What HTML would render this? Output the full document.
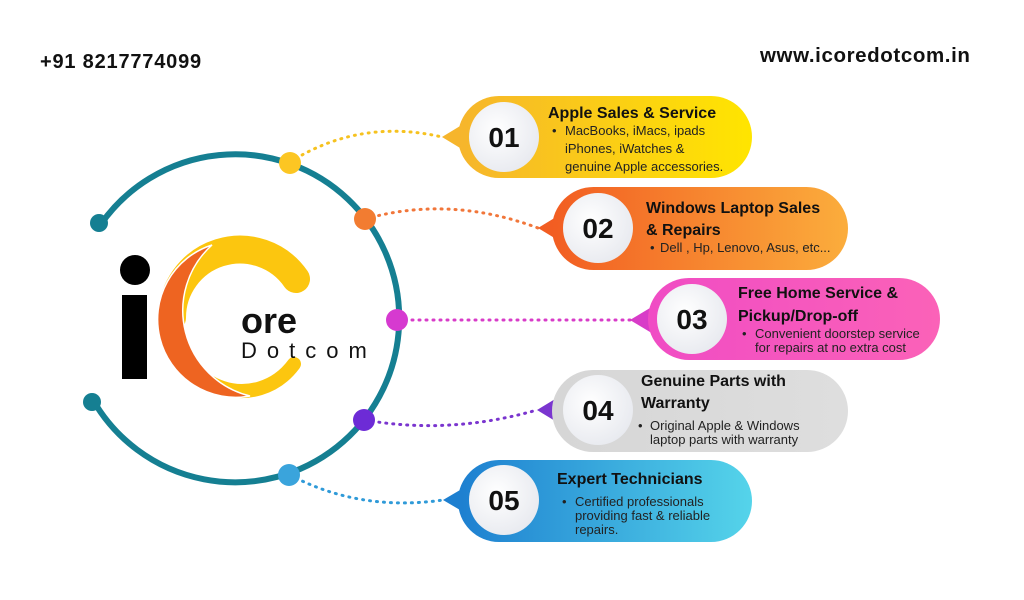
<!DOCTYPE html>
<html><head><meta charset="utf-8"><style>
html,body{margin:0;padding:0;background:#fff;}
svg{display:block;font-family:"Liberation Sans",sans-serif;}
.t{font-weight:bold;font-size:16px;fill:#111;}
.b{font-size:13px;fill:#222;}
.n{font-weight:bold;font-size:28px;fill:#111;}
</style></head><body>
<svg width="1024" height="600" viewBox="0 0 1024 600">
<defs>
<linearGradient id="g1" x1="0" x2="1"><stop offset="0" stop-color="#f6b52c"/><stop offset="1" stop-color="#ffe500"/></linearGradient>
<linearGradient id="g2" x1="0" x2="1"><stop offset="0" stop-color="#f25d22"/><stop offset="1" stop-color="#fbad3c"/></linearGradient>
<linearGradient id="g3" x1="0" x2="1"><stop offset="0" stop-color="#f04cc4"/><stop offset="1" stop-color="#fb62b8"/></linearGradient>
<linearGradient id="g4" x1="0" x2="1"><stop offset="0" stop-color="#d6d6d6"/><stop offset="1" stop-color="#dedede"/></linearGradient>
<linearGradient id="g5" x1="0" x2="1"><stop offset="0" stop-color="#1d7fd0"/><stop offset="1" stop-color="#55d4ea"/></linearGradient>
<radialGradient id="wc" cx="0.4" cy="0.4" r="0.7"><stop offset="0" stop-color="#ffffff"/><stop offset="1" stop-color="#e6e8ee"/></radialGradient>
</defs>
<text x="40" y="68" font-size="20" font-weight="bold" fill="#111" letter-spacing="0.8">+91 8217774099</text>
<text x="760" y="62" font-size="20.5" font-weight="bold" fill="#111" letter-spacing="0.6">www.icoredotcom.in</text>

<!-- big arc -->
<path d="M101,224 A164,164 0 1 1 93,400" fill="none" stroke="#157f92" stroke-width="6"/>
<circle cx="99" cy="223" r="9" fill="#157f92"/>
<circle cx="92" cy="402" r="9" fill="#157f92"/>

<!-- connectors -->
<g fill="none" stroke-width="3" stroke-dasharray="1 6" stroke-linecap="round">
<path d="M290,162 Q360,118 442,137" stroke="#f6c21f"/>
<path d="M365,219 Q450,195 538,228" stroke="#f1763a"/>
<path d="M398,320 L630,320" stroke="#d83cc8"/>
<path d="M365,420 Q450,435 537,410" stroke="#7a35cf"/>
<path d="M290,475 Q360,512 443,500" stroke="#2f9ad8"/>
</g>
<circle cx="290" cy="163" r="11" fill="#fcc623"/>
<circle cx="365" cy="219" r="11" fill="#f27c31"/>
<circle cx="397" cy="320" r="11" fill="#d63ad0"/>
<circle cx="364" cy="420" r="11" fill="#6d2bd6"/>
<circle cx="289" cy="475" r="11" fill="#3aa4dc"/>

<!-- logo -->
<circle cx="135" cy="270" r="15" fill="#000"/>
<rect x="122" y="295" width="25" height="84" fill="#000"/>
<path d="M296,279 A68,68 0 0 0 172,318" fill="none" stroke="#fcc60f" stroke-width="28" stroke-linecap="round"/>
<path d="M176,318 A66,70 0 0 0 294,364" fill="none" stroke="#fcc60f" stroke-width="14" stroke-linecap="round"/>
<path d="M212,245 A78,78 0 0 0 250,396 A88,88 0 0 1 212,245 Z" fill="#ee6421" stroke="#fff" stroke-width="1.5"/>
<text x="241" y="333" font-size="36" font-weight="bold" fill="#111">ore</text>
<text x="241" y="358" font-size="22" fill="#111" letter-spacing="10">Dotcom</text>

<!-- 01 -->
<polygon points="442,137 470,120 470,154" fill="#f6b52c"/>
<rect x="458" y="96" width="294" height="82" rx="41" fill="url(#g1)"/>
<circle cx="504" cy="137" r="35" fill="url(#wc)"/>
<text x="504" y="147" class="n" text-anchor="middle">01</text>
<text x="548" y="118" class="t">Apple Sales &amp; Service</text>
<text x="552" y="135" class="b">•</text>
<text x="565" y="135" class="b">MacBooks, iMacs, ipads</text>
<text x="565" y="153" class="b">iPhones, iWatches &amp;</text>
<text x="565" y="171" class="b">genuine Apple accessories.</text>

<!-- 02 -->
<polygon points="538,228 566,211 566,245" fill="#f25d22"/>
<rect x="552" y="187" width="296" height="83" rx="41.5" fill="url(#g2)"/>
<circle cx="598" cy="228" r="35" fill="url(#wc)"/>
<text x="598" y="238" class="n" text-anchor="middle">02</text>
<text x="646" y="213" class="t">Windows Laptop Sales</text>
<text x="646" y="235" class="t">&amp; Repairs</text>
<text x="650" y="252" class="b">•</text>
<text x="660" y="252" class="b">Dell , Hp, Lenovo, Asus, etc...</text>

<!-- 03 -->
<polygon points="630,320 660,302 660,338" fill="#d83cc8"/>
<rect x="648" y="278" width="292" height="82" rx="41" fill="url(#g3)"/>
<circle cx="692" cy="319" r="35" fill="url(#wc)"/>
<text x="692" y="329" class="n" text-anchor="middle">03</text>
<text x="738" y="298" class="t">Free Home Service &amp;</text>
<text x="738" y="321" class="t">Pickup/Drop-off</text>
<text x="742" y="338" class="b">•</text>
<text x="755" y="338" class="b">Convenient doorstep service</text>
<text x="755" y="352" class="b">for repairs at no extra cost</text>

<!-- 04 -->
<polygon points="537,410 565,393 565,427" fill="#7a35cf"/>
<rect x="552" y="370" width="296" height="82" rx="41" fill="url(#g4)"/>
<circle cx="598" cy="410" r="35" fill="url(#wc)"/>
<text x="598" y="420" class="n" text-anchor="middle">04</text>
<text x="641" y="386" class="t">Genuine Parts with</text>
<text x="641" y="408" class="t">Warranty</text>
<text x="638" y="430" class="b">•</text>
<text x="650" y="430" class="b">Original Apple &amp; Windows</text>
<text x="650" y="444" class="b">laptop parts with warranty</text>

<!-- 05 -->
<polygon points="443,500 472,483 472,517" fill="#1d7fd0"/>
<rect x="458" y="460" width="294" height="82" rx="41" fill="url(#g5)"/>
<circle cx="504" cy="500" r="35" fill="url(#wc)"/>
<text x="504" y="510" class="n" text-anchor="middle">05</text>
<text x="557" y="484" class="t">Expert Technicians</text>
<text x="562" y="506" class="b">•</text>
<text x="575" y="506" class="b">Certified professionals</text>
<text x="575" y="520" class="b">providing fast &amp; reliable</text>
<text x="575" y="534" class="b">repairs.</text>
</svg>
</body></html>
